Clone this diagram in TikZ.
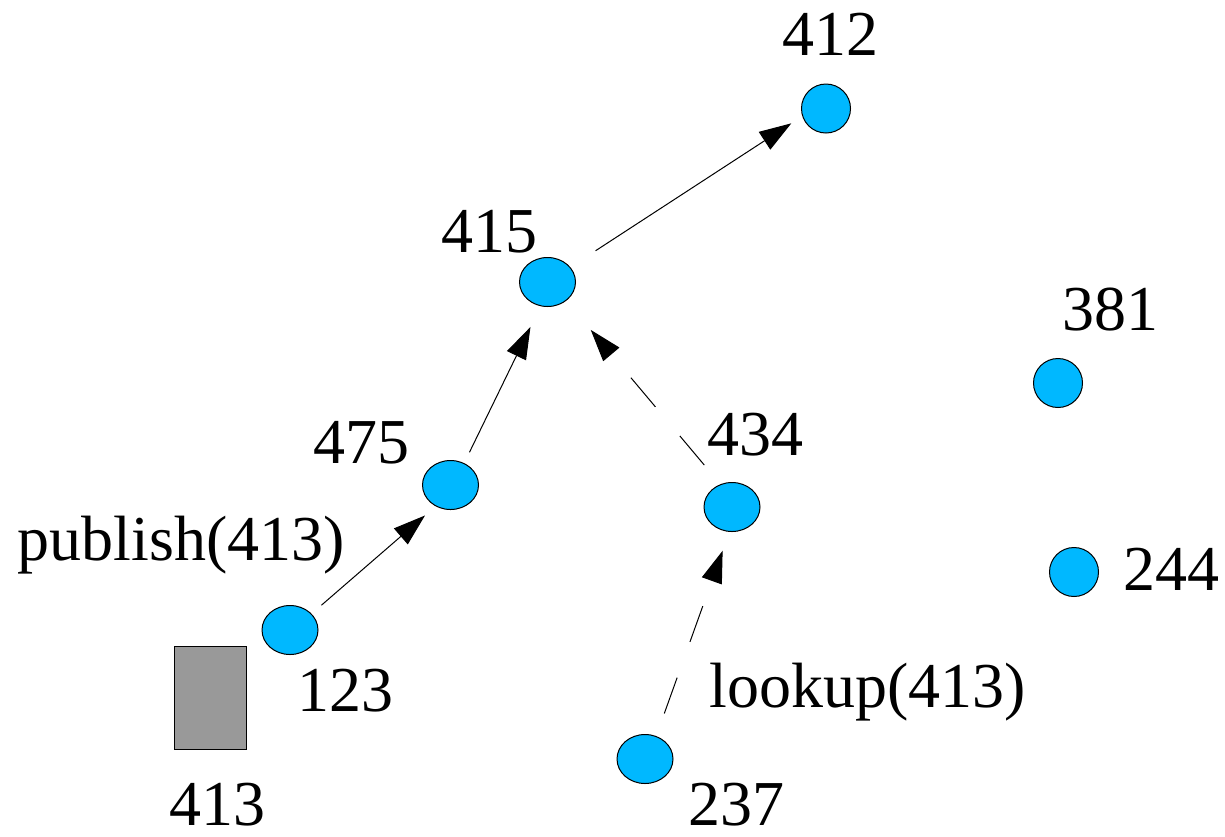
\documentclass[tikz,border=0pt]{standalone}
\usepackage{fontspec}
\setmainfont{LiberationSerif-Regular.ttf}
\usetikzlibrary{arrows.meta,shapes.geometric}
\definecolor{peerblue}{RGB}{0,184,255}
\definecolor{keygray}{RGB}{153,153,153}

\begin{document}
\begin{tikzpicture}[x=0.5pt,y=-0.5pt,
    peer/.style={ellipse,draw=black,line width=0.5pt,fill=peerblue,inner sep=0pt,
                 minimum width=28pt,minimum height=24.5pt},
    ring/.style={peer,minimum width=24.5pt},
    num/.style={anchor=base,inner sep=0pt,font=\fontsize{32}{38}\selectfont},
    hop/.style={line width=0.5pt,-{Triangle[length=16pt,width=10.5pt]}},
    lookuphop/.style={hop,dash pattern=on 19pt off 19pt}]
  \useasboundingbox (0,0) rectangle (1225,836);

  % peers
  \node[ring] (n412) at (826,108.5) {};
  \node[peer] (n415) at (547.5,282) {};
  \node[ring] (n381) at (1058,383) {};
  \node[peer] (n475) at (450.5,485) {};
  \node[peer] (n434) at (732,507) {};
  \node[ring] (n244) at (1074,572) {};
  \node[peer] (n123) at (290,630) {};
  \node[peer] (n237) at (645,759) {};

  % the stored key
  \node[draw=black,line width=0.5pt,fill=keygray,inner sep=0pt,
        minimum width=36pt,minimum height=51.5pt] (k413) at (210,697.5) {};

  % ids
  \node[num] (l412) at (830,55) {412};
  \node[num] (l415) at (489,252) {415};
  \node[num] (l381) at (1110.5,330) {381};
  \node[num] (l475) at (361,463) {475};
  \node[num] (l434) at (755,455) {434};
  \node[num] (l244) at (1171,590) {244};
  \node[num] (l123) at (345,711) {123};
  \node[num] (l413) at (217,825) {413};
  \node[num] (l237) at (736,825) {237};

  % operations
  \node[num] (pub) at (181.5,560) {publish(413)};
  \node[num] (look) at (867.5,707) {lookup(413)};

  % publish route
  \draw[hop,shorten <=6.5pt,shorten >=7pt] (n123.37) -- (n475.-125);
  \draw[hop,shorten <=6pt,shorten >=11.5pt] (n475.58) -- (n415.-106);
  \draw[hop,shorten <=15pt,shorten >=6.5pt] (n415.33) -- (n412.198);

  % lookup route
  \draw[lookuphop,shorten <=12pt,shorten >=10pt] (n237.64) -- (n434.-96);
  \draw[lookuphop,shorten <=12.5pt,shorten >=19pt] (n434.117) -- (n415.-45);
\end{tikzpicture}
\end{document}
